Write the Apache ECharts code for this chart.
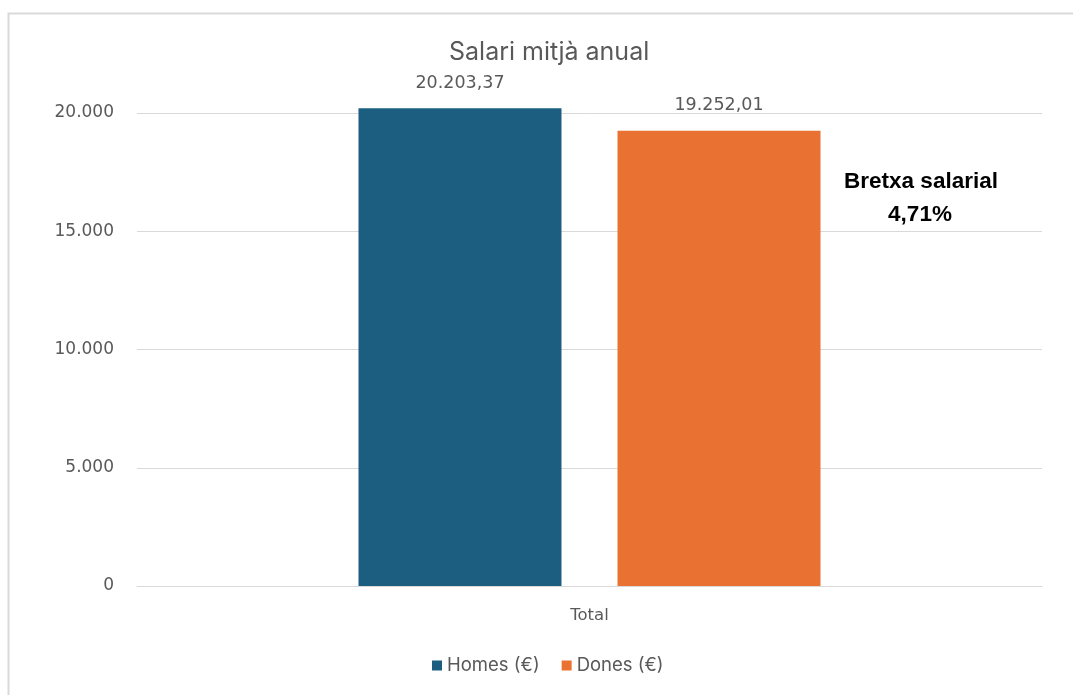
<!DOCTYPE html>
<html>
<head>
<meta charset="utf-8">
<title>Salari mitjà anual</title>
<script src="https://cdn.jsdelivr.net/npm/echarts@6/dist/echarts.min.js"></script>
<style>
  html, body { margin: 0; padding: 0; background: #ffffff; }
  #chart { width: 1073px; height: 695px; }
</style>
</head>
<body>
<div id="chart"></div>
<script>
// Average annual salary by sex
const categories = ['Total'];
const seriesNames = ['Homes (€)', 'Dones (€)'];
const homes = [20203.37];
const dones = [19252.01];
const yTicks = [0, 5000, 10000, 15000, 20000];

const colors = ['#1b5e80', '#e97132'];

// Catalan number format: dot for thousands, comma for decimals
function fmt(v, decimals) {
  const parts = v.toFixed(decimals).split('.');
  parts[0] = parts[0].replace(/\B(?=(\d{3})+(?!\d))/g, '.');
  return parts.length > 1 ? parts[0] + ',' + parts[1] : parts[0];
}

// Wage gap relative to men's salary
const gap = (homes[0] - dones[0]) / homes[0] * 100;

const chart = echarts.init(document.getElementById('chart'));
const numFont = "'DejaVu Sans', sans-serif";

const valueLabel = {
  show: true,
  position: 'top',
  distance: 16,
  fontFamily: numFont,
  fontSize: 17.5,
  color: '#595959',
  formatter: p => fmt(p.value, 2)
};

chart.setOption({
  backgroundColor: '#ffffff',
  animation: false,
  title: {
    text: 'Salari mitjà anual',
    left: 444,
    top: 35,
    textStyle: {
      fontFamily: "Inter, 'Roboto', sans-serif",
      fontWeight: 'normal',
      fontSize: 25,
      color: '#595959'
    }
  },
  legend: {
    data: seriesNames,
    top: 656,
    left: 432,
    padding: 0,
    icon: 'rect',
    itemWidth: 10,
    itemHeight: 10,
    itemGap: 22,
    textStyle: { fontFamily: "Inter, sans-serif", fontSize: 18.5, color: '#595959' }
  },
  grid: { left: 137, right: 31, top: 113, bottom: 109, containLabel: false },
  xAxis: {
    type: 'category',
    data: categories,
    axisLine: { show: true, lineStyle: { color: '#d9d9d9', width: 1 } },
    axisTick: { show: false },
    axisLabel: {
      margin: 21,
      fontFamily: numFont,
      fontSize: 16.5,
      color: '#595959'
    }
  },
  yAxis: {
    type: 'value',
    min: yTicks[0],
    max: yTicks[yTicks.length - 1],
    interval: yTicks[1] - yTicks[0],
    axisLine: { show: false },
    axisTick: { show: false },
    splitLine: { lineStyle: { color: '#d9d9d9', width: 1 } },
    axisLabel: {
      margin: 23,
      fontFamily: numFont,
      fontSize: 17,
      color: '#595959',
      formatter: v => fmt(v, 0)
    }
  },
  series: [
    {
      name: seriesNames[0],
      type: 'bar',
      data: homes,
      barWidth: 203,
      barGap: '27.6%',
      clip: false,
      itemStyle: { color: colors[0] },
      label: valueLabel
    },
    {
      name: seriesNames[1],
      type: 'bar',
      data: dones,
      barWidth: 203,
      clip: false,
      itemStyle: { color: colors[1] },
      label: valueLabel
    }
  ],
  graphic: [
    {
      type: 'rect',
      silent: true,
      z: -10,
      shape: { x: 8.5, y: 13.5, width: 1080, height: 700 },
      style: { fill: 'none', stroke: '#d9d9d9', lineWidth: 2 }
    },
    {
      type: 'text',
      x: 921,
      y: 182,
      style: {
        text: 'Bretxa salarial',
        textAlign: 'center',
        textVerticalAlign: 'middle',
        fontFamily: "'Liberation Sans', Arial, sans-serif",
        fontWeight: 'bold',
        fontSize: 22.5,
        fill: '#000000'
      }
    },
    {
      type: 'text',
      x: 920,
      y: 215,
      style: {
        text: fmt(gap, 2) + '%',
        textAlign: 'center',
        textVerticalAlign: 'middle',
        fontFamily: "'Liberation Sans', Arial, sans-serif",
        fontWeight: 'bold',
        fontSize: 22.5,
        fill: '#000000'
      }
    }
  ]
});
</script>
</body>
</html>
